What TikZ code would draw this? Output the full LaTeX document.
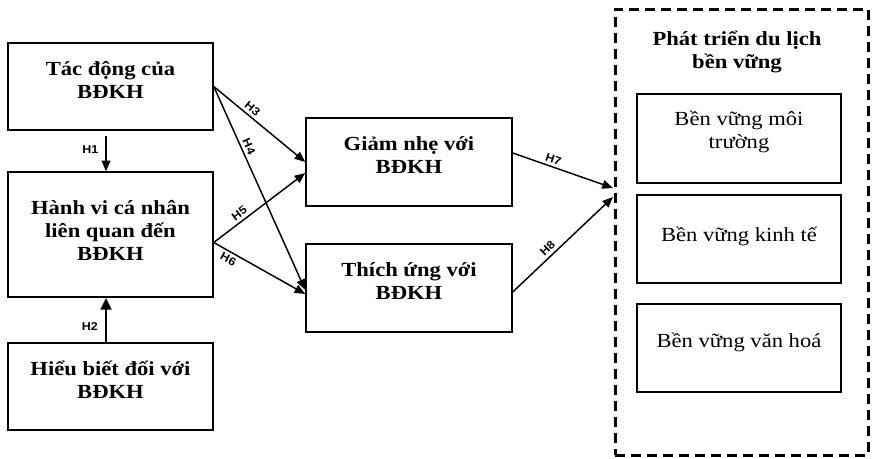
\documentclass[tikz,border=0pt]{standalone}
\usepackage{fontspec}
\setmainfont{Liberation Serif}[FakeStretch=1.13]
\newfontfamily\hfont{Liberation Sans}[FakeStretch=1.1]
\usetikzlibrary{arrows.meta,calc}
\begin{document}
\begin{tikzpicture}[x=0.75pt,y=-0.75pt,
  box/.style={draw, line width=1.1pt, inner sep=0pt},
  mtxt/.style={font=\fontsize{15}{17.25}\selectfont\bfseries, align=center, inner sep=0pt},
  rtxt/.style={font=\fontsize{15}{17.25}\selectfont, align=center, inner sep=0pt},
  hl/.style={font=\hfont\bfseries\fontsize{8.5}{9}\selectfont, inner sep=2.2pt},
  arr/.style={line width=1.1pt, -{Triangle[length=8pt,width=6.5pt]}},
  dashbox/.style={draw, line width=2.25pt, dash pattern=on 7.5pt off 4.5pt, inner sep=0pt}]
\useasboundingbox (0,0) rectangle (872,458);
% left column
\node[box, minimum width=153.75pt, minimum height=65.25pt,
  label={[mtxt, name=At, yshift=5pt]center:Tác động của\\BĐKH}] (A) at (110.5,86.5) {};
\node[box, minimum width=153.75pt, minimum height=93.75pt,
  label={[mtxt, name=Bt, yshift=3pt]center:Hành vi cá nhân\\liên quan đến\\BĐKH}] (B) at (110.5,234.5) {};
\node[box, minimum width=153.75pt, minimum height=65.25pt,
  label={[mtxt, name=Ct, yshift=5pt]center:Hiểu biết đối với\\BĐKH}] (C) at (110.5,386.5) {};
% middle column
\node[box, minimum width=154.5pt, minimum height=66pt,
  label={[mtxt, name=Dt, yshift=5pt]center:Giảm nhẹ với\\BĐKH}] (D) at (409,162) {};
\node[box, minimum width=154.5pt, minimum height=66pt,
  label={[mtxt, name=Et, yshift=5pt]center:Thích ứng với\\BĐKH}] (E) at (409,288) {};
% right group
\node[dashbox, minimum width=189.75pt, minimum height=334.5pt] (O) at (741.5,232) {};
\node[mtxt] (T) at (737,52) {Phát triển du lịch\\bền vững};
\node[box, minimum width=153pt, minimum height=66.75pt,
  label={[rtxt, name=S1t, yshift=5pt]center:Bền vững môi\\trường}] (S1) at (739,138.5) {};
\node[box, minimum width=153pt, minimum height=66pt,
  label={[rtxt, name=S2t, yshift=2pt]center:Bền vững kinh tế}] (S2) at (739,239) {};
\node[box, minimum width=153pt, minimum height=66pt,
  label={[rtxt, name=S3t, yshift=4pt]center:Bền vững văn hoá}] (S3) at (739,348) {};
\coordinate (t7) at (613,188);
\coordinate (t8) at (613,197);
% arrows
\draw[arr] ($(A.south)+(-4.5,5)$) -- node[hl, left, pos=0.4, xshift=-3pt] (h1) {H1} ($(B.north)+(-4.5,0)$);
\draw[line width=2pt, -{Triangle[length=9pt,width=8pt]}] ($(C.north)+(-4.5,0)$) -- node[hl, left, pos=0.35, xshift=-3pt] (h2) {H2} ($(B.south)+(-4.5,0)$);
\draw[arr] (A.east) -- node[hl, sloped, above, pos=0.37] (h3) {H3} (D.west);
\draw[arr] (A.east) -- node[hl, sloped, above, pos=0.31] (h4) {H4} ($(E.west)+(0,2)$);
\draw[arr] ($(B.east)+(0,8)$) -- node[hl, sloped, above, pos=0.33] (h5) {H5} ($(D.west)+(0,11)$);
\draw[arr] ($(B.east)+(0,8)$) -- node[hl, sloped, below, pos=0.2] (h6) {H6} ($(E.west)+(0,6)$);
\draw[arr] ($(D.east)+(0,-9)$) -- node[hl, sloped, above, pos=0.38] (h7) {H7} (t7);
\draw[arr] ($(E.east)+(0,4)$) -- node[hl, sloped, above, pos=0.4] (h8) {H8} (t8);
\end{tikzpicture}
\end{document}
